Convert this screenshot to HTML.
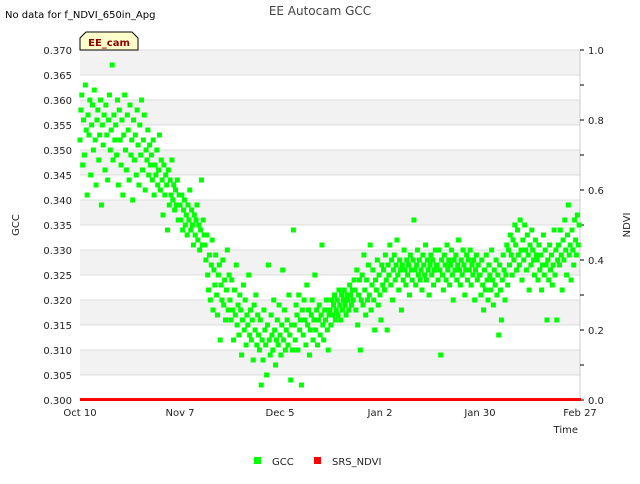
<!DOCTYPE html>
<html><head><meta charset="utf-8"><style>
body{margin:0;background:#fff;font-family:"DejaVu Sans",sans-serif;}
text{font-family:"DejaVu Sans",sans-serif;}
</style></head><body>
<svg id="chart" width="640" height="480" xmlns="http://www.w3.org/2000/svg">
<rect width="640" height="480" fill="#fff"/>
<g id="bands"></g>
<g id="grid"></g>
<text x="5" y="18" font-size="10" fill="#000">No data for f_NDVI_650in_Apg</text>
<text x="320" y="15" font-size="12" fill="#444" text-anchor="middle">EE Autocam GCC</text>
<text x="19" y="225" font-size="10" fill="#222" text-anchor="middle" transform="rotate(-90 19 225)">GCC</text>
<text x="630" y="225" font-size="10" fill="#222" text-anchor="middle" transform="rotate(-90 630 225)">NDVI</text>
<text x="578" y="433" font-size="10" fill="#222" text-anchor="end">Time</text>
<g id="yticks"></g><g id="y2ticks"></g><g id="xticks"></g>
<g id="points"></g>
<rect x="80" y="398" width="501" height="3" fill="#ff0000"/>
<g>
<path d="M80,50 L80,38 L86,32 L132,32 L138,38 L138,50 Z" fill="#ffffcc" stroke="#000" stroke-width="1"/>
<text x="109" y="46" font-size="10" font-weight="bold" fill="#8b0000" text-anchor="middle">EE_cam</text>
</g>
<g>
<rect x="254" y="457" width="7" height="7" fill="#00ff00"/>
<text x="272" y="465" font-size="10" fill="#222">GCC</text>
<rect x="314" y="457" width="7" height="7" fill="#ff0000"/>
<text x="332" y="465" font-size="10" fill="#222">SRS_NDVI</text>
</g>
</svg>
<script>
const xTickLabels=["Oct 10","Nov 7","Dec 5","Jan 2","Jan 30","Feb 27"];
const xTickDays=[0,28,56,84,112,140];
const yTicks=[0.300,0.305,0.310,0.315,0.320,0.325,0.330,0.335,0.340,0.345,0.350,0.355,0.360,0.365,0.370];
const y2Ticks=[0.0,0.2,0.4,0.6,0.8,1.0];
const pointsPerDay=4;
const gcc=[
.352,.358,.361,.347,.356,.349,.363,.354,.341,.357,.353,.360,.345,.355,.359,.350,.362,.352,.343,.356,.358,.348,.353,.360,.339,.355,.351,.357,.346,.359,.353,.344,.356,.361,.350,.354,.367,.348,.357,.352,
.355,.349,.360,.343,.358,.352,.347,.356,.341,.353,.361,.350,.346,.357,.354,.344,.359,.349,.352,.340,.356,.348,.353,.345,.358,.351,.343,.355,.349,.360,.346,.352,.357,.342,.350,.348,.354,.345,.351,.347,
.349,.344,.352,.341,.347,.345,.350,.343,.346,.353,.342,.348,.344,.337,.347,.341,.345,.343,.334,.346,.339,.344,.341,.348,.340,.343,.338,.342,.339,.344,.336,.341,
.339,.336,.341,.334,.338,.340,.335,.337,.333,.339,.336,.342,.334,.338,.335,.331,.337,.333,.336,.339,.332,.335,.330,.334,.344,.331,.336,.333,
.331,.328,.333,.325,.322,.329,.320,.327,.332,.318,.326,.323,.329,.321,.317,.325,.327,.312,.323,.320,.328,.319,.324,.316,.322,.330,.318,.325,
.320,.316,.324,.318,.312,.322,.317,.327,.315,.319,.313,.321,.318,.309,.316,.323,.314,.320,.311,.317,.315,.325,.313,.318,.312,.316,.308,.319,.314,.321,.311,.317,
.313,.310,.316,.303,.312,.308,.318,.314,.311,.305,.315,.327,.312,.309,.317,.313,.310,.320,.314,.307,.312,.316,.311,.319,.313,.309,.315,.326,.312,.318,.310,.314,.316,.311,.321,.313,.304,.315,.310,.334,
.315,.312,.319,.317,.310,.321,.314,.316,.303,.318,.313,.320,.316,.311,.323,.315,.318,.309,.314,.317,.320,.312,.316,.325,.314,.318,.311,.316,.319,.313,.317,.331,.315,.312,.318,.316,.320,.314,.310,.317,
.318,.315,.320,.317,.319,.321,.316,.318,.320,.317,.322,.319,.316,.321,.318,.320,.322,.319,.317,.321,.320,.318,.323,.321,.319,.322,.320,.324,
.322,.318,.326,.315,.321,.324,.310,.320,.325,.319,.329,.322,.317,.324,.320,.327,.321,.331,.318,.323,.326,.320,.314,.324,.322,.328,.319,.325,.321,.316,.327,.323,
.326,.322,.329,.324,.314,.327,.325,.331,.323,.328,.320,.326,.329,.324,.327,.332,.325,.322,.328,.326,.318,.327,.324,.330,.326,.323,.328,.325,.327,.321,.329,.326,.324,.328,.336,.326,.323,.327,.330,.325,.328,.324,.326,.322,.329,.327,.325,.331,.324,.328,.326,.321,.327,.329,.325,.328,.323,.326,.330,.327,
.327,.324,.330,.326,.309,.328,.325,.322,.329,.327,.324,.331,.326,.328,.323,.327,.330,.325,.320,.328,.326,.329,.324,.327,.332,.326,.323,.328,.325,.330,.327,.321,.326,.329,.324,.328,.326,.330,.323,.327,.325,.328,.320,.326,.329,.324,.327,.325,
.325,.321,.328,.323,.318,.326,.322,.329,.324,.320,.327,.325,.322,.330,.324,.319,.326,.323,.328,.321,.325,.313,.327,.322,.316,.324,.329,.326,.320,.325,.331,.323,
.330,.327,.333,.329,.325,.332,.328,.335,.331,.326,.334,.329,.327,.336,.330,.324,.332,.328,.335,.330,.326,.333,.329,.322,.331,.327,.334,.330,.328,.325,.332,.329,
.328,.324,.331,.326,.329,.322,.327,.333,.325,.330,.327,.316,.328,.324,.331,.326,.329,.323,.327,.334,.325,.330,.316,.328,
.331,.327,.334,.329,.322,.332,.328,.336,.330,.325,.333,.339,.329,.331,.324,.334,.330,.327,.336,.332,.329,.337,.331,.335
];
const NS="http://www.w3.org/2000/svg";
const X0=80,X1=580,Y0=400,Y1=50;
const xs=d=>X0+(d/140)*(X1-X0);
const ys=v=>Y0-(v-0.300)/(0.070)*(Y0-Y1);
const y2s=v=>Y0-v*(Y0-Y1);
function mk(tag,attrs,parent){const e=document.createElementNS(NS,tag);for(const k in attrs)e.setAttribute(k,attrs[k]);document.getElementById(parent).appendChild(e);return e;}
for(let i=0;i<yTicks.length-1;i++){
  if((yTicks.length-2-i)%2===0){
    const b=mk('rect',{x:X0,y:ys(yTicks[i+1]),width:X1-X0,height:ys(yTicks[i])-ys(yTicks[i+1]),fill:'#f2f2f2'},'bands');
    
    
  }
}
yTicks.forEach(v=>{
  const l=mk('line',{x1:X0,x2:X1,y1:ys(v),y2:ys(v),stroke:'#dcdcdc','stroke-width':1},'grid');
  
  
  const t=mk('text',{x:72,y:ys(v)+4,'font-size':10,fill:'#222','text-anchor':'end'},'yticks');
  t.textContent=v.toFixed(3);
  
  
});
const fr=mk('line',{x1:X1,x2:X1,y1:Y1,y2:Y0,stroke:'#ccc'},'grid');


for(let k=0;k<=10;k++){
  const v=k/10;
  const tk=mk('line',{x1:X1,x2:X1+4,y1:y2s(v),y2:y2s(v),stroke:'#000'},'y2ticks');
  
  
}
y2Ticks.forEach(v=>{
  const t=mk('text',{x:588,y:y2s(v)+4,'font-size':10,fill:'#222'},'y2ticks');
  t.textContent=v.toFixed(1);
  
  
});
xTickLabels.forEach((s,i)=>{
  const t=mk('text',{x:xs(xTickDays[i]),y:416,'font-size':10,fill:'#222','text-anchor':'middle'},'xticks');
  t.textContent=s;
  
  
});
gcc.forEach((v,i)=>{
  const d=i/pointsPerDay;
  const r=mk('rect',{x:xs(d)-2.5,y:ys(v)-2.5,width:5,height:5,fill:'#00ff00'},'points');
  
  
});
</script>
</body></html>
